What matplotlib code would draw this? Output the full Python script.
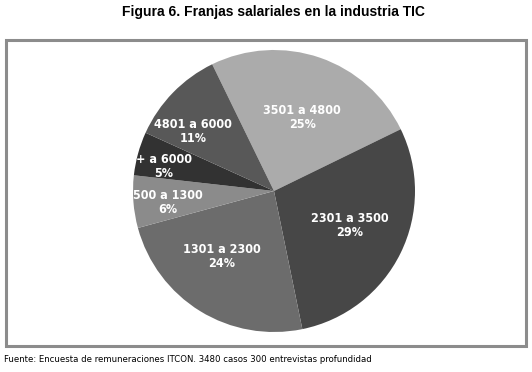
import numpy as np
import matplotlib.pyplot as plt
from matplotlib.patches import Rectangle

# data, clockwise from the top
rangos = ['3501 a 4800', '2301 a 3500', '1301 a 2300', '500 a 1300', '+ a 6000', '4801 a 6000']
porcentajes = [25, 29, 24, 6, 5, 11]
colores = ['#ababab', '#474747', '#6c6c6c', '#8b8b8b', '#323232', '#585858']
# label placement (fraction of radius, angle nudge in degrees)
dist_label = [0.56, 0.59, 0.59, 0.76, 0.80, 0.71]
giro_label = [-2, 2, -7, 2, 3, 8]

fig = plt.figure(figsize=(5.32, 3.72), dpi=100)

# frame around the chart
fig.patches.append(Rectangle((5.5 / 532, 26.5 / 372), 520 / 532, 306 / 372,
                             transform=fig.transFigure, fill=False,
                             edgecolor='#8c8c8c', linewidth=2.2))

ax = fig.add_axes([133 / 532, 40 / 372, 282 / 532, 282 / 372])
wedges, _ = ax.pie(porcentajes, colors=colores, startangle=116, counterclock=False,
                   radius=1, wedgeprops=dict(linewidth=0))
ax.set_xlim(-1, 1)
ax.set_ylim(-1, 1)
ax.set_aspect('equal')
ax.axis('off')

for w, r, p, d, g in zip(wedges, rangos, porcentajes, dist_label, giro_label):
    ang = np.deg2rad((w.theta1 + w.theta2) / 2 + g)
    ax.text(d * np.cos(ang), d * np.sin(ang), f'{r}\n{p}%', ha='center', va='center',
            color='white', fontsize=9, fontweight='bold', family='DejaVu Sans',
            fontstretch='condensed', linespacing=1.1)

fig.text(273 / 532, 1 - 12 / 372, 'Figura 6. Franjas salariales en la industria TIC',
         ha='center', va='center', fontsize=10, fontweight='bold',
         family=['Liberation Sans', 'DejaVu Sans'])
fig.text(4 / 532, 12 / 372,
         'Fuente: Encuesta de remuneraciones ITCON. 3480 casos 300 entrevistas profundidad',
         ha='left', va='center', fontsize=6.8, family='DejaVu Sans', fontstretch='condensed')

fig.savefig('out.png', dpi=100)
